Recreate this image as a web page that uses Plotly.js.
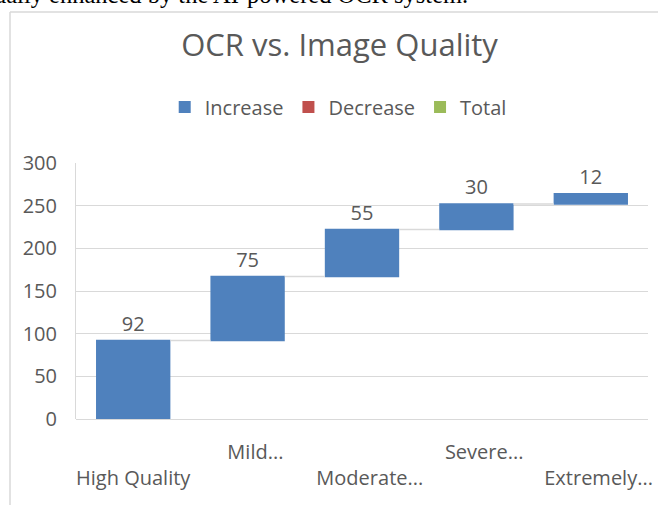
<!DOCTYPE html>
<html>
<head>
<meta charset="utf-8">
<script src="https://cdn.plot.ly/plotly-3.0.1.min.js"></script>
<style>html,body{margin:0;padding:0;background:#fff;overflow:hidden}#chart{width:658px;height:505px}</style>
</head>
<body>
<div id="chart"></div>
<script>
var categories = ["High Quality", "Mild...", "Moderate...", "Severe...", "Extremely..."];
var tickLabels = ["\u00a0<br>High Quality", "\u00a0\u00a0\u00a0Mild...", "\u00a0<br>\u00a0\u00a0\u00a0Moderate...", "\u00a0\u00a0\u00a0Severe...", "\u00a0<br>\u00a0\u00a0\u00a0Extremely..."];
var values = [92, 75, 55, 30, 12];
var measures = ["relative", "relative", "relative", "relative", "relative"];
var legendNames = ["Increase", "Decrease", "Total"];
var legendColors = ["#4f81bd", "#c0504d", "#9bbb59"];
var titleText = "OCR vs. Image Quality";
var clippedText = "ually enhanced by the AI-powered OCR system.";

var gray = "#595959";
var font = "Open Sans, sans-serif";

var traces = [{
  type: "waterfall",
  x: categories,
  y: values,
  measure: measures,
  text: values.map(String),
  textposition: "outside",
  textfont: {family: font, size: 20, color: gray},
  increasing: {marker: {color: legendColors[0], line: {width: 0}}},
  decreasing: {marker: {color: legendColors[1], line: {width: 0}}},
  totals: {marker: {color: legendColors[2], line: {width: 0}}},
  connector: {mode: "between", line: {color: "#d9d9d9", width: 1.5}},
  width: 0.65,
  showlegend: false,
  cliponaxis: false,
  hoverinfo: "none"
}];
legendNames.forEach(function (n, i) {
  traces.push({type: "bar", x: [null], y: [null], name: n, marker: {color: legendColors[i]}, showlegend: true, hoverinfo: "none"});
});

var layout = {
  width: 658, height: 505,
  margin: {l: 76, r: 10, t: 163, b: 86},
  paper_bgcolor: "#fff", plot_bgcolor: "#fff",
  showlegend: true,
  title: {text: titleText, font: {family: font, size: 31, color: gray}, xref: "container", x: 0.516, xanchor: "center", yref: "container", y: 1 - 45/505, yanchor: "middle"},
  legend: {orientation: "h", xref: "container", x: 0.514, xanchor: "center", yref: "container", y: 1 - 107/505, yanchor: "middle", font: {family: font, size: 20, color: gray}, itemwidth: 30, traceorder: "normal", tracegroupgap: 0},
  xaxis: {type: "category", categoryorder: "array", categoryarray: categories, tickvals: categories, ticktext: tickLabels, range: [-0.5, 4.5], showgrid: false, zeroline: false, showline: false, ticks: "", tickfont: {family: font, size: 20, color: gray}, ticklabelstandoff: 19, fixedrange: true},
  yaxis: {range: [0, 300], tickvals: [0, 50, 100, 150, 200, 250, 300], showgrid: true, gridcolor: "#d9d9d9", gridwidth: 1, zeroline: true, zerolinecolor: "#d9d9d9", zerolinewidth: 1, showline: true, linecolor: "#d9d9d9", linewidth: 1, ticks: "", tickfont: {family: font, size: 20, color: gray}, ticklabelstandoff: 14, fixedrange: true},
  shapes: [
    {type: "line", xref: "paper", yref: "paper", x0: (10 - 76) / 572, x1: (10 - 76) / 572, y0: (419 - 12) / 256, y1: (419 - 510) / 256, line: {color: "#d9d9d9", width: 1.5}},
    {type: "line", xref: "paper", yref: "paper", x0: (10 - 76) / 572, x1: (670 - 76) / 572, y0: (419 - 12) / 256, y1: (419 - 12) / 256, line: {color: "#d9d9d9", width: 1.5}}
  ],
  annotations: [
    {text: clippedText, xref: "paper", yref: "paper", x: (-8 - 76) / 572, y: (419 - 10) / 256, xanchor: "left", yanchor: "bottom", showarrow: false, font: {family: "Liberation Serif, Times New Roman, serif", size: 24.5, color: "#000"}}
  ]
};

Plotly.newPlot("chart", traces, layout, {displayModeBar: false, staticPlot: true});
</script>
</body>
</html>
